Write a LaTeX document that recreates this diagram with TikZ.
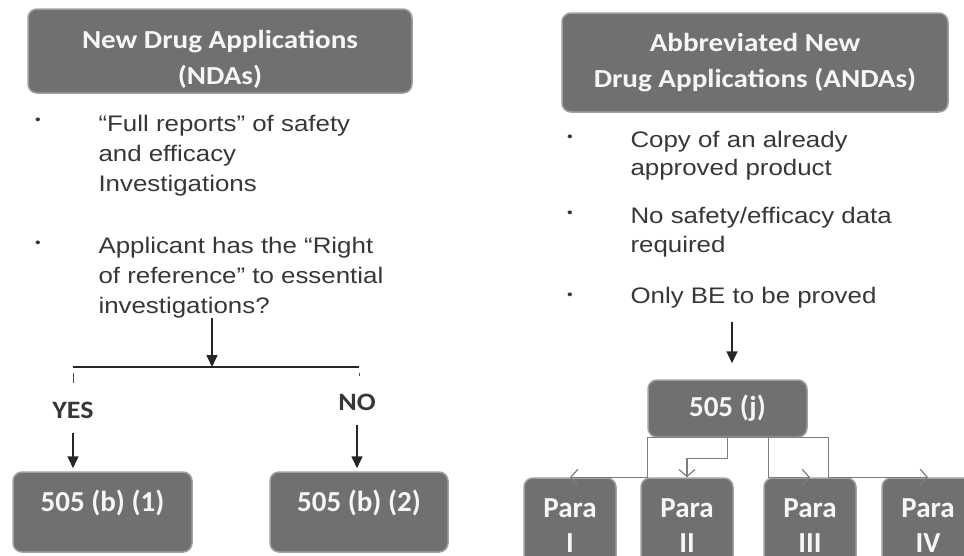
\documentclass[tikz,border=0pt]{standalone}
\usepackage{fontspec}
\setmainfont[FakeStretch=1.15]{Liberation Sans}
\newfontfamily\boxfont[FakeStretch=1.12]{Carlito}
\newfontfamily\tagfont{Carlito}
\usetikzlibrary{arrows.meta}
\usepackage{xcolor}
\definecolor{boxgray}{RGB}{112,112,112}
\definecolor{boxedge}{RGB}{160,160,160}
\definecolor{boxtext}{RGB}{246,246,246}
\definecolor{bodytext}{RGB}{55,55,55}
\definecolor{linkgray}{RGB}{125,125,125}

\begin{document}
\begin{tikzpicture}[
        x=1pt, y=-1pt,
        appbox/.style={
            rectangle, rounded corners=9pt,
            fill=boxgray, draw=boxedge, line width=1.5pt,
            text=boxtext, align=center,
            font=\boxfont\bfseries\fontsize{26}{36}\selectfont
        },
        tagbox/.style={appbox, text depth=22pt,
            font=\tagfont\bfseries\fontsize{29}{35}\selectfont},
        parabox/.style={appbox, minimum width=92pt, minimum height=104pt, text height=44pt,
            font=\tagfont\bfseries\fontsize{29}{35}\selectfont},
        point/.style={anchor=base, text=bodytext, font=\fontsize{14}{16}\selectfont},
        bullettext/.style={anchor=base west, align=left, text=bodytext,
            font=\fontsize{22.5}{30}\selectfont},
        answer/.style={anchor=base, text=bodytext,
            font=\boxfont\bfseries\fontsize{25}{30}\selectfont},
        arrow/.style={-{Triangle[length=12pt,width=11pt]}, line width=1.5pt, draw=black!85},
        link/.style={-{Straight Barb[length=7pt,width=16pt]}, line width=1.2pt, draw=linkgray}
    ]
        \clip (0,0) rectangle (964,555);

        % Application types
        \node[appbox, minimum width=384pt, minimum height=84pt, text height=70.5pt] (NDA) at (220,51) {New Drug Applications\\(NDAs)};
        \node[appbox, minimum width=386pt, minimum height=99pt] (ANDA) at (755,62.5) {Abbreviated New\\Drug Applications (ANDAs)};

        % NDA points
        \node[point] (n1) at (38,124) {•};
        \node[bullettext] (N1) at (95,191) {“Full reports” of safety\\and efficacy\\Investigations};
        \node[point] (n2) at (38,247) {•};
        \node[bullettext] (N2) at (95,313) {Applicant has the “Right\\of reference” to essential\\investigations?};

        % ANDA points
        \node[point] (a1) at (570,141) {•};
        \node[bullettext, font=\fontsize{22.5}{28.5}\selectfont] (A1) at (627,175.5) {Copy of an already\\approved product};
        \node[point] (a2) at (570,217) {•};
        \node[bullettext, font=\fontsize{22.5}{29}\selectfont] (A2) at (627,252) {No safety/efficacy data\\required};
        \node[point] (a3) at (570,299) {•};
        \node[bullettext] (A3) at (627,303) {Only BE to be proved};

        % NDA split
        \coordinate (NQ) at (212,318);
        \coordinate (NS) at (212,367);
        \coordinate (YS) at (73,367);
        \coordinate (NE) at (359,367);
        \draw[arrow] (NQ) -- (NS);
        \draw[line width=1.3pt, black!85] (YS) -- (NE);
        \draw[line width=1pt, black!70] (YS) ++(0,6) -- ++(0,10);
        \draw[line width=1pt, black!70] (NE) ++(0,6) -- ++(0,3);

        \node[answer] (YES) at (73,418) {YES};
        \node[answer] (NO) at (357,410) {NO};

        \node[tagbox, minimum width=179pt, minimum height=80pt] (B1) at (102.5,512) {505 (b) (1)};
        \node[tagbox, minimum width=178pt, minimum height=80pt] (B2) at (359,512) {505 (b) (2)};

        \draw[arrow, shorten >=3pt] (YES.south) ++(0,11) -- (YES.south |- B1.north);
        \draw[arrow, shorten >=3pt] (NO.south) ++(0,11) -- (NO.south |- B2.north);

        % ANDA route
        \coordinate (AQ) at (732,322);
        \node[tagbox, text depth=6pt, minimum width=159pt, minimum height=57pt] (J) at (727.5,408.5) {505 (j)};
        \draw[arrow, shorten >=16pt] (AQ) -- (AQ |- J.north);

        \node[parabox] (P1) at (570,530) {Para\\I};
        \node[parabox] (P2) at (687,530) {Para\\II};
        \node[parabox] (P3) at (810,530) {Para\\III};
        \node[parabox] (P4) at (928,530) {Para\\IV};

        \draw[line width=1.2pt, linkgray] (J.south west) -- ([xshift=21pt]J.south east);
        \draw[link] (J.south west) |- (P1.north);
        \draw[link] (J.south) -- ++(0,21) -| (P2.north);
        \draw[link] ([xshift=41pt]J.south) |- (P3.north);
        \draw[link] ([xshift=21pt]J.south east) |- (P4.north);
    \end{tikzpicture}
\end{document}
